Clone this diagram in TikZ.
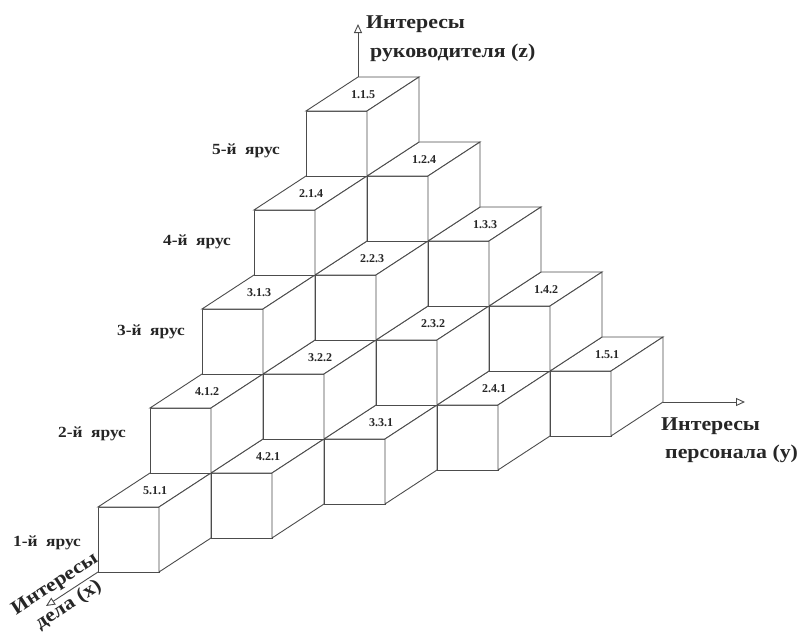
\documentclass[tikz,border=0pt]{standalone}
\usepackage{fontspec}
\setmainfont{Liberation Serif}
\newfontfamily\widefont[FakeStretch=1.12]{Liberation Serif}
\usetikzlibrary{arrows.meta}
\tikzset{
  cube/.style={draw=black!70, line width=0.9pt, line join=miter, fill=white},
  cubelabel/.style={font=\bfseries\fontsize{12}{13}\selectfont, text=black!85, inner sep=0pt},
  tier/.style={font=\widefont\bfseries\fontsize{15.5}{16}\selectfont, text=black!85, inner sep=0pt, anchor=base},
  axislabel/.style={font=\widefont\bfseries\fontsize{19.5}{21}\selectfont, text=black!85, inner sep=0pt, anchor=base west},
  axis/.style={draw=black!70, line width=0.9pt, -{Triangle[open,length=9pt,width=8pt]}}
}
\begin{document}
\begin{tikzpicture}[x=1pt,y=-1pt]
\useasboundingbox (0,0) rectangle (798,632);
\foreach \i/\j/\k in {5/1/1,4/2/1,3/3/1,2/4/1,1/5/1,4/1/2,3/2/2,2/3/2,1/4/2,3/1/3,2/2/3,1/3/3,2/1/4,1/2/4,1/1/5}{
  \pgfmathsetmacro\px{98+(5-\i)*52+(\j-1)*61}
  \pgfmathsetmacro\py{572-(5-\i)*34-(\k-1)*65}
  \begin{scope}[shift={(\px,\py)}]
    \draw[cube] (0,0) rectangle (61,-65);
    \draw[cube] (0,-65) -- (52,-99) -- (113,-99) -- (61,-65) -- cycle;
    \draw[cube] (61,0) -- (113,-34) -- (113,-99) -- (61,-65) -- cycle;
    \node[cubelabel] (c\i\j\k) at (57,-81) {\i.\j.\k};
  \end{scope}
}
% axes
\coordinate (zb) at (358,77);
\coordinate (zt) at (358,24);
\coordinate (yb) at (663,402);
\coordinate (yt) at (745,402);
\coordinate (xb) at (98,572);
\coordinate (xt) at (46,606);
\draw[axis] (zb) -- (zt);
\draw[axis] (yb) -- (yt);
\draw[axis] (xb) -- (xt);
% axis labels
\node[axislabel] (zl1) at (366,28) {Интересы};
\node[axislabel] (zl2) at (370,57) {руководителя (z)};
\node[axislabel] (yl1) at (661,430) {Интересы};
\node[axislabel] (yl2) at (665,458) {персонала (y)};
\node[font=\widefont\bfseries\fontsize{19.5}{25}\selectfont, text=black!85, inner sep=0pt, align=center, rotate=33] (xl) at (62,595) {Интересы\\дела (x)};
% tiers
\node[tier] (t5) at (246,154) {5-й\ \ ярус};
\node[tier] (t4) at (197,245) {4-й\ \ ярус};
\node[tier] (t3) at (151,335) {3-й\ \ ярус};
\node[tier] (t2) at (92,437) {2-й\ \ ярус};
\node[tier] (t1) at (47,546) {1-й\ \ ярус};
\end{tikzpicture}
\end{document}
